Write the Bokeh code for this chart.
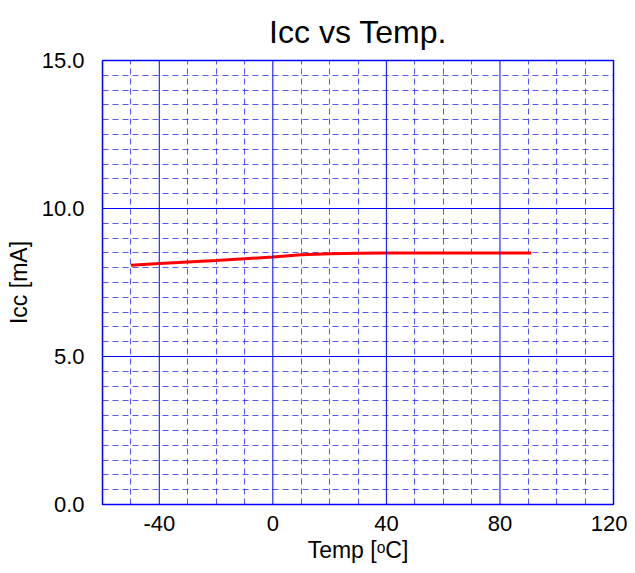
from bokeh.plotting import figure
from bokeh.models import FixedTicker, Range1d, Title, Span, CustomJSTickFormatter
from bokeh.embed import file_html
from bokeh.resources import INLINE

title_text = "Icc vs Temp."
temp = [-50, -40, -30, -20, -10, 0, 10, 20, 30, 40, 50, 60, 70, 80, 91]
icc = [8.08, 8.14, 8.19, 8.24, 8.30, 8.36, 8.44, 8.47, 8.49, 8.50, 8.50, 8.50, 8.50, 8.50, 8.50]

x_major = [-40, 0, 40, 80, 120]
x_minor = [-60, -50, -30, -20, -10, 10, 20, 30, 50, 60, 70, 90, 100, 110]
y_major = [0, 5, 10, 15]
y_minor = [i * 0.5 for i in range(31) if i % 10 != 0]

FONT = "Liberation Sans"
BLUE = "#0000ff"

p = figure(width=627, height=565, output_backend="svg", toolbar_location=None,
           x_range=Range1d(-60, 120), y_range=Range1d(0, 15),
           min_border_left=102, min_border_right=14, min_border_top=60, min_border_bottom=59)
p.background_fill_color = "white"
p.border_fill_color = "white"
p.outline_line_color = BLUE
p.outline_line_width = 1.5
p.outline_line_alpha = 1

t = Title(text=title_text, align="center", text_font=FONT,
          text_font_size="32px", text_font_style="normal", text_color="black",
          offset=6, standoff=22)
p.add_layout(t, "above")

p.xaxis.ticker = FixedTicker(ticks=x_major, minor_ticks=x_minor)
p.yaxis.ticker = FixedTicker(ticks=y_major, minor_ticks=y_minor)
p.xaxis.formatter = CustomJSTickFormatter(code="return tick.toFixed(0);")
p.yaxis.formatter = CustomJSTickFormatter(code="return tick.toFixed(1);")

for ax in (p.xaxis, p.yaxis):
    ax.axis_line_color = None
    ax.major_tick_line_color = None
    ax.minor_tick_line_color = None
    ax.major_label_text_font = FONT
    ax.major_label_text_font_size = "22px"
    ax.major_label_text_color = "black"
    ax.axis_label_text_font = FONT
    ax.axis_label_text_font_size = "23px"
    ax.axis_label_text_font_style = "normal"
    ax.axis_label_text_color = "black"

p.xaxis.axis_label = "Temp [ᵒC]"
p.yaxis.axis_label = "Icc [mA]"
p.xaxis.major_label_standoff = 5
p.yaxis.major_label_standoff = 12
p.xaxis.axis_label_standoff = 3
p.yaxis.axis_label_standoff = 7

for g in (p.xgrid, p.ygrid):
    g.grid_line_color = None
    g.minor_grid_line_color = "#2222ee"
    g.minor_grid_line_alpha = 0.75
    g.minor_grid_line_width = 1
    g.minor_grid_line_dash = "6 4"

for xv in x_major:
    p.add_layout(Span(location=xv, dimension="height", line_color=BLUE, line_width=1))
for yv in y_major:
    p.add_layout(Span(location=yv, dimension="width", line_color=BLUE, line_width=1))

p.line(temp, icc, line_color="#ff0000", line_width=3)

open("out.html", "w").write(file_html(p, INLINE))
